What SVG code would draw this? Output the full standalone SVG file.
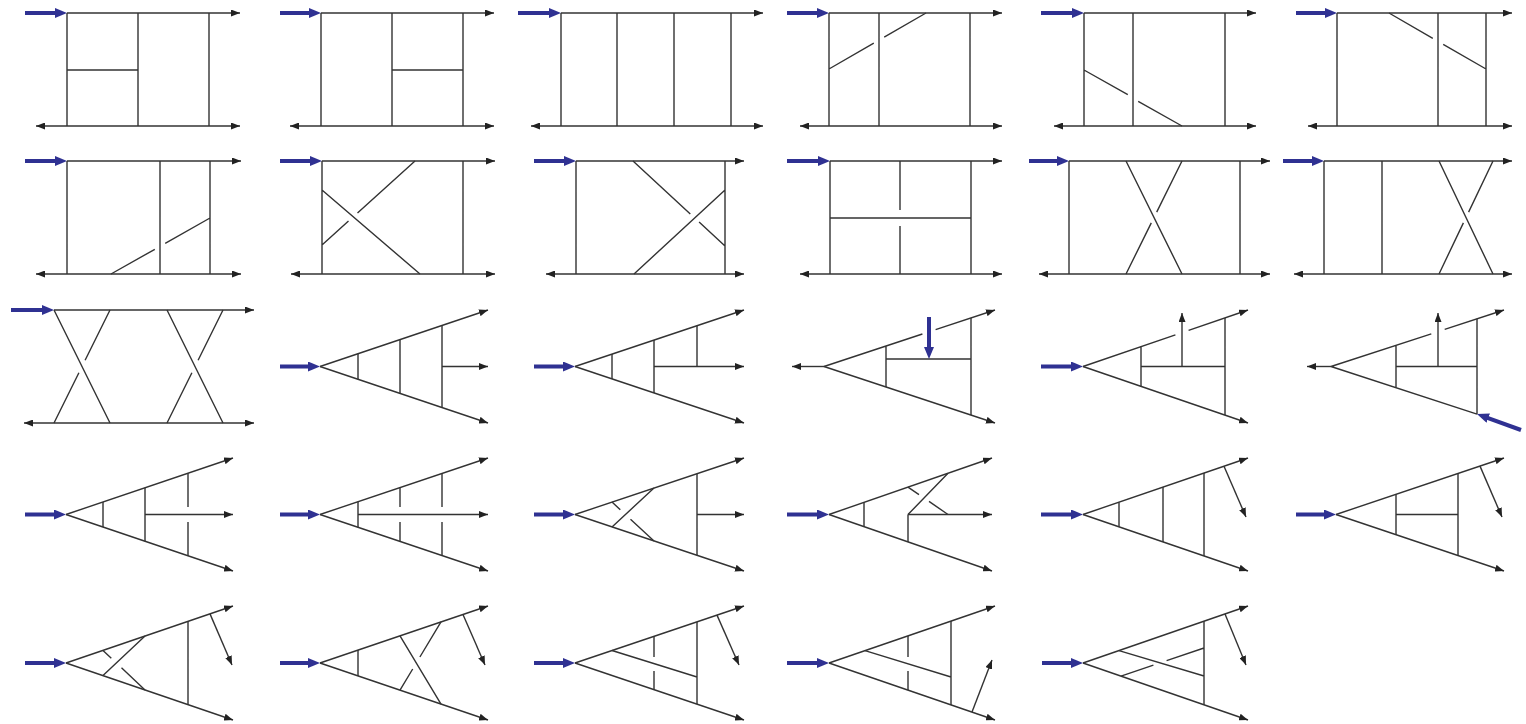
<svg xmlns="http://www.w3.org/2000/svg" width="1526" height="724" viewBox="0 0 1526 724">
<defs>
<marker id="ah" markerUnits="userSpaceOnUse" viewBox="0 0 9 7" markerWidth="9" markerHeight="7" refX="9" refY="3.5" orient="auto-start-reverse"><path d="M0,0 L9,3.5 L0,7 Z" fill="#222"/></marker>
<marker id="bh" markerUnits="userSpaceOnUse" viewBox="0 0 12 10" markerWidth="12" markerHeight="10" refX="6" refY="5" orient="auto"><path d="M0,0 L12,5 L0,10 Z" fill="#2f3192"/></marker>
<style>
.l{fill:none;stroke:#333;stroke-width:1.4}
.a{fill:none;stroke:#333;stroke-width:1.4;marker-end:url(#ah)}
.d{fill:none;stroke:#333;stroke-width:1.4;marker-start:url(#ah);marker-end:url(#ah)}
.b{fill:none;stroke:#2f3192;stroke-width:4;marker-end:url(#bh)}
</style>
</defs>
<rect width="1526" height="724" fill="#fff"/>
<g id="d1"><path class="b" d="M25,13H61"/><path class="a" d="M67,13H240"/><path class="d" d="M36,126H240"/><path class="l" d="M67,13V126M138,13V126M209,13V126M67,70H138"/></g>
<g id="d2"><path class="b" d="M280,13H315"/><path class="a" d="M321,13H494"/><path class="d" d="M290,126H494"/><path class="l" d="M321,13V126M392,13V126M463,13V126M392,70H463"/></g>
<g id="d3"><path class="b" d="M518,13H555"/><path class="a" d="M561,13H763"/><path class="d" d="M531,126H763"/><path class="l" d="M561,13V126M617,13V126M674,13V126M731,13V126"/></g>
<g id="d4"><path class="b" d="M787,13H823"/><path class="a" d="M829,13H1002"/><path class="d" d="M800,126H1002"/><path class="l" d="M829,13V126M879,13V126M970,13V126M829,69L873.8,43.1M884.2,37.1L926,13"/></g>
<g id="d5"><path class="b" d="M1041,13H1078"/><path class="a" d="M1084,13H1256"/><path class="d" d="M1054,126H1256"/><path class="l" d="M1084,13V126M1133,13V126M1225,13V126M1084,70L1127.8,94.6M1138.2,101.4L1182,126"/></g>
<g id="d6"><path class="b" d="M1296,13H1331"/><path class="a" d="M1337,13H1512"/><path class="d" d="M1308,126H1512"/><path class="l" d="M1337,13V126M1438,13V126M1486,13V126M1389,13L1432.8,38.3M1443.2,44.3L1486,69"/></g>
<g id="d7"><path class="b" d="M25,161H61"/><path class="a" d="M67,161H241"/><path class="d" d="M36,274H241"/><path class="l" d="M67,161V274M160,161V274M210,161V274M111,274L154.8,249.3M165.2,243.4L210,218"/></g>
<g id="d8"><path class="b" d="M280,161H316"/><path class="a" d="M322,161H495"/><path class="d" d="M291,274H495"/><path class="l" d="M322,161V274M463,161V274M322,190L420,274M322,245L348.5,221M357.5,213L415,161"/></g>
<g id="d9"><path class="b" d="M534,161H570"/><path class="a" d="M576,161H744"/><path class="d" d="M546,274H744"/><path class="l" d="M576,161V274M725,161V274M633,161L690.3,214M699.1,222.1L725,246M634,274L725,190"/></g>
<g id="d10"><path class="b" d="M787,161H824"/><path class="a" d="M830,161H1002"/><path class="d" d="M800,274H1002"/><path class="l" d="M830,161V274M971,161V274M830,218H971M900,161V210M900,226V274"/></g>
<g id="d11"><path class="b" d="M1029,161H1063"/><path class="a" d="M1069,161H1270"/><path class="d" d="M1039,274H1270"/><path class="l" d="M1069,161V274M1240,161V274M1126,161L1182,274M1182,161L1156.7,212.1M1151.3,222.9L1126,274"/></g>
<g id="d12"><path class="b" d="M1283,161H1318"/><path class="a" d="M1324,161H1512"/><path class="d" d="M1294,274H1512"/><path class="l" d="M1324,161V274M1382,161V274M1439,161L1493,274M1493,161L1468.6,212.1M1463.4,222.9L1439,274"/></g>
<g id="d13"><path class="b" d="M11,310H48"/><path class="a" d="M54,310H254"/><path class="d" d="M24,423H254"/><path class="l" d="M54,310L110,423M110,310L85.1,360.2M78.9,372.8L54,423M167,310L223,423M223,310L198.1,360.2M191.9,372.8L167,423"/></g>
<g id="d14"><path class="b" d="M280,366.5H314"/><path class="a" d="M320,366.5L488,310"/><path class="a" d="M320,366.5L488,423"/><path class="a" d="M442,366.5H488"/><path class="l" d="M358,353.7V379.3M400,339.6V393.4M442,325.5V407.5"/></g>
<g id="d15"><path class="b" d="M534,366.5H569"/><path class="a" d="M575,366.5L744,310"/><path class="a" d="M575,366.5L744,423"/><path class="a" d="M654,366.5H744"/><path class="l" d="M612,354.1V378.9M654,340.1V392.9M697,325.7V366.5"/></g>
<g id="d16"><path class="a" d="M824,366.5H792"/><path class="l" d="M824,366.5L922.4,334M886,346V387M971,317.9V415.1M886,359H971"/><path class="a" d="M935.6,329.6L995,310"/><path class="a" d="M824,366.5L995,423"/><path class="b" d="M929,317V353"/></g>
<g id="d17"><path class="b" d="M1041,366.5H1077"/><path class="l" d="M1083,366.5L1175.4,334.9M1141,346.6V386.4M1225,317.9V415.1M1141,366.5H1225"/><path class="a" d="M1188.6,330.4L1248,310"/><path class="a" d="M1083,366.5L1248,423"/><path class="a" d="M1182,366.5V313"/></g>
<g id="d18"><path class="a" d="M1331,366.5H1307"/><path class="l" d="M1331,366.5L1431.3,333.8M1331,366.5L1477,414.2M1396,345.3V387.7M1477,318.8V414.2M1396,366.5H1477"/><path class="a" d="M1444.7,329.4L1504,310"/><path class="a" d="M1438,366.5V313"/><path class="b" d="M1521,430L1482.6,416.1"/></g>
<g id="d19"><path class="b" d="M25,514.5H60"/><path class="a" d="M66,514.5L233,458"/><path class="a" d="M66,514.5L233,571"/><path class="a" d="M145,514.5H233"/><path class="l" d="M103,502V527M145,487.8V541.2M188,473.2V507M188,522V555.8"/></g>
<g id="d20"><path class="b" d="M280,514.5H314"/><path class="a" d="M320,514.5L488,458"/><path class="a" d="M320,514.5L488,571"/><path class="a" d="M358,514.5H488"/><path class="l" d="M358,501.7V527.3M400,487.6V507M400,522V541.4M442,473.5V507M442,522V555.5"/></g>
<g id="d21"><path class="b" d="M534,514.5H569"/><path class="a" d="M575,514.5L744,458"/><path class="a" d="M575,514.5L744,571"/><path class="a" d="M697,514.5H744"/><path class="l" d="M697,473.7V555.3M612,526.9L654,488.1M612,502.1L620.3,509.8M630.5,519.2L654,540.9"/></g>
<g id="d22"><path class="b" d="M787,514.5H823"/><path class="a" d="M829,514.5L992,458"/><path class="a" d="M829,514.5L992,571"/><path class="a" d="M908,514.5H992"/><path class="l" d="M864,502.4V526.6M908,514.5V541.9M908,514.5L948,473.3M908,487.1L919,494.6M929,501.4L948,514.5"/></g>
<g id="d23"><path class="b" d="M1041,514.5H1077"/><path class="a" d="M1083,514.5L1248,458"/><path class="a" d="M1083,514.5L1248,571"/><path class="a" d="M1224,466.2L1246,517"/><path class="l" d="M1119,502.2V526.8M1163,487.1V541.9M1204,473.1V555.9"/></g>
<g id="d24"><path class="b" d="M1296,514.5H1330"/><path class="a" d="M1336,514.5L1504,458"/><path class="a" d="M1336,514.5L1504,571"/><path class="a" d="M1480,466.1L1502,517"/><path class="l" d="M1396,494.3V534.7M1458,473.5V555.5M1396,514.5H1458"/></g>
<g id="d25"><path class="b" d="M25,663H60"/><path class="a" d="M66,663L233,606"/><path class="a" d="M66,663L233,720"/><path class="a" d="M210,613.9L232,665"/><path class="l" d="M188,621.4V704.6M103,675.6L145,636M103,650.4L111.3,658.2M121.5,667.8L145,690"/></g>
<g id="d26"><path class="b" d="M280,663H314"/><path class="a" d="M320,663L488,606"/><path class="a" d="M320,663L488,720"/><path class="a" d="M463,614.5L485,665"/><path class="l" d="M358,650.1V675.9M400,635.9L441,704.1M441,621.9L419.9,657M412.7,669L400,690.1"/></g>
<g id="d27"><path class="b" d="M534,663H569"/><path class="a" d="M575,663L744,606"/><path class="a" d="M575,663L744,720"/><path class="a" d="M717,615.1L739,665"/><path class="l" d="M697,621.9V704.1M612,650.5L697,677M654,636.4V657M654,671V689.6"/></g>
<g id="d28"><path class="b" d="M787,663H823"/><path class="a" d="M829,663L995,606"/><path class="a" d="M829,663L995,720"/><path class="a" d="M972,712.1L992,660"/><path class="l" d="M951,621.1V704.9M865,650.6L951,677M908,635.9V657M908,671V690.1"/></g>
<g id="d29"><path class="b" d="M1042,663H1077"/><path class="a" d="M1083,663L1248,606"/><path class="a" d="M1083,663L1248,720"/><path class="a" d="M1225,613.9L1246,665"/><path class="l" d="M1204,621.2V704.8M1119,650.6L1204,676M1121,676.1L1153.4,665.1M1166.6,660.6L1204,648"/></g>
</svg>
